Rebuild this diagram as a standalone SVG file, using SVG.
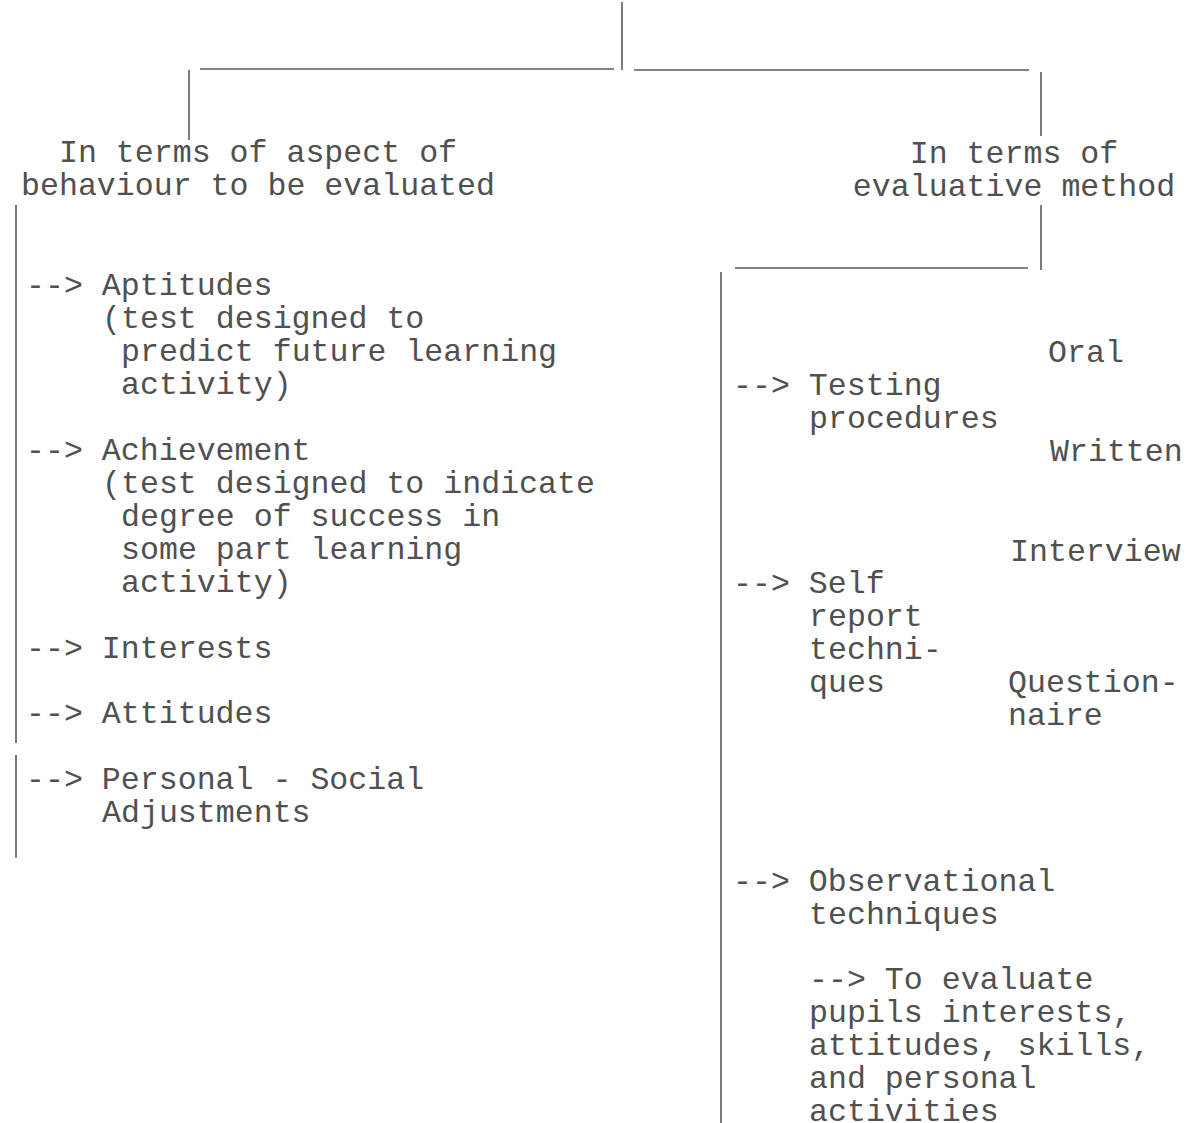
<svg xmlns="http://www.w3.org/2000/svg" width="1192" height="1123" viewBox="0 0 1192 1123">
<style>
text{font-family:"Liberation Mono","Courier New",monospace;font-size:31.6px;fill:#505050}
.c{text-anchor:middle}
line{stroke:#5a5a5a;stroke-width:1.6;fill:none}
</style>
<rect width="1192" height="1123" fill="#fff"/>
<g id="connectors">
<line x1="622" y1="2" x2="622" y2="70"/>
<line x1="200" y1="69" x2="614" y2="69"/>
<line x1="634" y1="70" x2="1029" y2="70"/>
<line x1="189" y1="70" x2="189" y2="140"/>
<line x1="1041" y1="72" x2="1041" y2="136"/>
<line x1="16" y1="205" x2="16" y2="743"/>
<line x1="16" y1="755" x2="16" y2="858"/>
<line x1="1041" y1="205" x2="1041" y2="270"/>
<line x1="735" y1="268" x2="1028" y2="268"/>
<line x1="721" y1="272" x2="721" y2="1123"/>
</g>
<g id="left-head">
<text class="c" x="258" y="162">In terms of aspect of</text>
<text class="c" x="258" y="195">behaviour to be evaluated</text>
</g>
<g id="right-head">
<text class="c" x="1014" y="163">In terms of</text>
<text class="c" x="1014" y="196">evaluative method</text>
</g>
<g id="aptitudes">
<text x="26" y="295">--&gt; Aptitudes</text>
<text x="102" y="328">(test designed to</text>
<text x="121" y="361">predict future learning</text>
<text x="121" y="394">activity)</text>
</g>
<g id="achievement">
<text x="26" y="460">--&gt; Achievement</text>
<text x="102" y="493">(test designed to indicate</text>
<text x="121" y="526">degree of success in</text>
<text x="121" y="559">some part learning</text>
<text x="121" y="592">activity)</text>
</g>
<g id="interests"><text x="26" y="658">--&gt; Interests</text></g>
<g id="attitudes"><text x="26" y="723">--&gt; Attitudes</text></g>
<g id="personal">
<text x="26" y="789">--&gt; Personal - Social</text>
<text x="102" y="822">Adjustments</text>
</g>
<g id="testing">
<text x="733" y="395">--&gt; Testing</text>
<text x="809" y="428">procedures</text>
</g>
<g id="oral"><text x="1048" y="362">Oral</text></g>
<g id="written"><text x="1050" y="461">Written</text></g>
<g id="selfreport">
<text x="733" y="593">--&gt; Self</text>
<text x="809" y="626">report</text>
<text x="809" y="659">techni-</text>
<text x="809" y="692">ques</text>
</g>
<g id="interview"><text x="1010" y="561">Interview</text></g>
<g id="questionnaire">
<text x="1008" y="692">Question-</text>
<text x="1008" y="725">naire</text>
</g>
<g id="observational">
<text x="733" y="891">--&gt; Observational</text>
<text x="809" y="924">techniques</text>
<text x="809" y="989">--&gt; To evaluate</text>
<text x="809" y="1022">pupils interests,</text>
<text x="809" y="1055">attitudes, skills,</text>
<text x="809" y="1088">and personal</text>
<text x="809" y="1121">activities</text>
</g>
</svg>
